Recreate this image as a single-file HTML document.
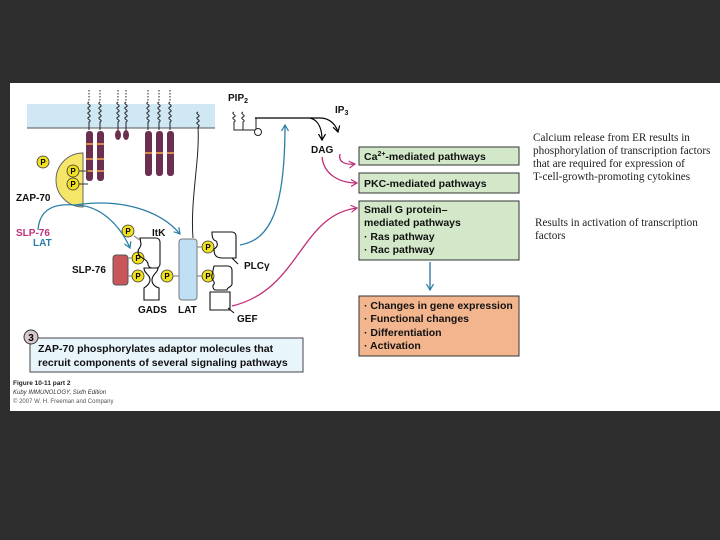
<!DOCTYPE html>
<html><head><meta charset="utf-8"><style>
html,body{margin:0;padding:0;background:#2d2d2d;}
svg{display:block}
</style></head><body>
<svg width="720" height="540" viewBox="0 0 720 540" xmlns="http://www.w3.org/2000/svg" font-family="Liberation Sans, sans-serif">
<defs>
<marker id="ab" markerUnits="userSpaceOnUse" markerWidth="8" markerHeight="8" refX="6" refY="4" orient="auto"><path d="M0,0.5 L6,4 L0,7.5" fill="none" stroke="#2a7fa6" stroke-width="1.2"/></marker>
<marker id="am" markerUnits="userSpaceOnUse" markerWidth="8" markerHeight="8" refX="6" refY="4" orient="auto"><path d="M0,0.5 L6,4 L0,7.5" fill="none" stroke="#c0307a" stroke-width="1.2"/></marker>
<marker id="ak" markerUnits="userSpaceOnUse" markerWidth="8" markerHeight="8" refX="6" refY="4" orient="auto"><path d="M0,0.5 L6,4 L0,7.5" fill="none" stroke="#000" stroke-width="1.2"/></marker>
</defs>
<rect x="0" y="0" width="720" height="540" fill="#2d2d2d"/>
<rect x="10" y="83" width="710" height="328" fill="#fff"/>
<rect x="27" y="104" width="188" height="24" fill="#cfe8f4"/>
<line x1="27" y1="128" x2="215" y2="128" stroke="#555" stroke-width="1"/>
<g stroke="#222" fill="none" stroke-width="1">
<path d="M89,90 v12 M100,90 v12 M118,90 v12 M126,90 v12 M148,90 v12 M159,90 v12 M170,90 v12" stroke-dasharray="1.5,1.5"/>
<g id="coil"><path d="M89,102 c-4,2 4,3 0,5 c-4,2 4,3 0,5 c-4,2 4,3 0,5 c-4,2 4,3 0,5 v8"/></g>
<use href="#coil" x="11"/><use href="#coil" x="29"/><use href="#coil" x="37"/><use href="#coil" x="59"/><use href="#coil" x="70"/><use href="#coil" x="81"/>
<path d="M198,112 c-4,2 4,3 0,5 c-4,2 4,3 0,5 c-4,2 4,3 0,5"/>
<path d="M198,127 C200,160 190,200 193,238"/>
<path d="M234,112 c-4,2 4,3 0,5 c-4,2 4,3 0,5 v8 h22 M243,112 c-4,2 4,3 0,5 c-4,2 4,3 0,5 v8"/>
<line x1="256" y1="118" x2="256" y2="130"/>
</g>
<circle cx="258" cy="132" r="3.5" fill="#fff" stroke="#222"/>
<path d="M255,118 H320 C330,118 336,125 338,132" fill="none" stroke="#000" stroke-width="1.2" marker-end="url(#ak)"/>
<path d="M310,118 C318,120 322,128 322,140" fill="none" stroke="#000" stroke-width="1.2" marker-end="url(#ak)"/>
<g fill="#6b3050">
<rect x="86" y="131" width="7" height="50" rx="3"/><rect x="97" y="131" width="7" height="50" rx="3"/>
<ellipse cx="118" cy="135" rx="3" ry="5"/><ellipse cx="126" cy="135" rx="3" ry="5"/>
<rect x="145" y="131" width="7" height="45" rx="3"/><rect x="156" y="131" width="7" height="45" rx="3"/><rect x="167" y="131" width="7" height="45" rx="3"/>
</g>
<g fill="#d98a4a">
<rect x="86" y="143" width="7" height="2"/><rect x="86" y="158" width="7" height="2"/><rect x="86" y="170" width="7" height="2"/>
<rect x="97" y="143" width="7" height="2"/><rect x="97" y="158" width="7" height="2"/><rect x="97" y="170" width="7" height="2"/>
<rect x="145" y="152" width="7" height="2"/><rect x="156" y="152" width="7" height="2"/><rect x="167" y="152" width="7" height="2"/>
</g>
<path d="M83,153 A27,27 0 0 0 83,207 Z" fill="#f5e66a" stroke="#666"/>
<line x1="78" y1="171" x2="88" y2="171" stroke="#333"/><line x1="78" y1="184" x2="88" y2="184" stroke="#333"/>
<g font-size="8" font-weight="bold" text-anchor="middle">
<g fill="#f0e020" stroke="#333" stroke-width="0.8">
<circle cx="43" cy="162" r="6"/><circle cx="73" cy="171" r="6"/><circle cx="73" cy="184" r="6"/>
<circle cx="128" cy="231" r="6"/><circle cx="138" cy="258" r="6"/><circle cx="138" cy="276" r="6"/>
<circle cx="167" cy="276" r="6"/><circle cx="208" cy="247" r="6"/><circle cx="208" cy="276" r="6"/>
</g>
<text x="43" y="165">P</text><text x="73" y="174">P</text><text x="73" y="187">P</text>
<text x="128" y="234">P</text><text x="138" y="261">P</text><text x="138" y="279">P</text>
<text x="167" y="279">P</text><text x="208" y="250">P</text><text x="208" y="279">P</text>
</g>
<rect x="179" y="239" width="18" height="61" rx="3" fill="#bfe0f4" stroke="#777"/>
<rect x="113" y="255" width="15" height="30" rx="3" fill="#c8555a" stroke="#555"/>
<g stroke="#888" stroke-width="1.2">
<line x1="128" y1="258" x2="132" y2="258"/><line x1="128" y1="276" x2="132" y2="276"/>
<line x1="173" y1="276" x2="179" y2="276"/><line x1="197" y1="247" x2="202" y2="247"/><line x1="197" y1="276" x2="202" y2="276"/>
<line x1="134" y1="236" x2="140" y2="240"/>
</g>
<g fill="none" stroke="#111" stroke-width="1.1">
<path d="M140,238 h16 a4,4 0 0 1 4,4 v22 a4,4 0 0 1 -4,4 h-4 a4,4 0 0 1 -4,-4 c0,-5 -10,-6 -10,-12 c0,-4 3,-4 3,-8 z"/>
<path d="M146,268 h12 c0,5 -6,6 -6,12 c0,5 4,7 7,8 v12 h-15 v-12 c3,-2 6,-5 6,-8 c0,-6 -6,-6 -6,-12z"/>
<path d="M212,232 h20 a4,4 0 0 1 4,4 v22 h-14 c-8,0 -8,-6 -8,-9 c4,-2 4,-6 2,-8 c-4,-1 -4,-6 -4,-9z"/>
<path d="M214,266 h14 a4,4 0 0 1 4,4 v14 c0,3 -5,3 -5,6 h-11 c-3,0 -4,-4 -2,-6 c2,-2 -4,-5 -2,-9z"/>
<path d="M210,292 h20 v18 h-20 z"/>
<path d="M232,258 l6,6 M228,308 l6,5"/>
</g>
<g fill="none" stroke-width="1.3">
<path d="M38,230 C40,200 70,205 75,205 C100,205 120,225 130,248" stroke="#2a7fa6" marker-end="url(#ab)"/>
<path d="M75,205 C120,198 160,210 180,234" stroke="#2a7fa6" marker-end="url(#ab)"/>
<path d="M240,245 C270,240 285,210 285,125" stroke="#2a7fa6" marker-end="url(#ab)"/>
<path d="M232,306 C300,290 300,215 357,208" stroke="#c0307a" marker-end="url(#am)"/>
<path d="M322,157 C324,175 340,183 357,183" stroke="#c0307a" marker-end="url(#am)"/>
<path d="M340,154 C338,162 345,165 355,164" stroke="#c0307a" marker-end="url(#am)"/>
<path d="M430,262 V290" stroke="#2a6fa0" marker-end="url(#ab)"/>
</g>
<g font-weight="bold" font-size="10" fill="#111">
<text x="16" y="201">ZAP-70</text>
<text x="16" y="236" fill="#c0307a">SLP-76</text>
<text x="33" y="246" fill="#2a7fa6">LAT</text>
<text x="72" y="273">SLP-76</text>
<text x="152" y="236">ItK</text>
<text x="138" y="313">GADS</text><text x="178" y="313">LAT</text>
<text x="244" y="269">PLCγ</text><text x="237" y="322">GEF</text>
<text x="228" y="101">PIP<tspan font-size="7" dy="2">2</tspan></text>
<text x="335" y="113">IP<tspan font-size="7" dy="2">3</tspan></text>
<text x="311" y="153">DAG</text>
</g>
<g stroke="#333" stroke-width="1">
<rect x="359" y="147" width="160" height="18" fill="#d2e8c8"/>
<rect x="359" y="173" width="160" height="20" fill="#d2e8c8"/>
<rect x="359" y="201" width="160" height="59" fill="#d2e8c8"/>
<rect x="359" y="296" width="160" height="60" fill="#f2b58d"/>
</g>
<g font-weight="bold" font-size="10.5" fill="#111">
<text x="364" y="160">Ca<tspan font-size="7" dy="-4">2+</tspan><tspan dy="4">-mediated pathways</tspan></text>
<text x="364" y="187">PKC-mediated pathways</text>
<text x="364" y="213">Small G protein–</text>
<text x="364" y="226">mediated pathways</text>
<text x="364" y="240">· Ras pathway</text>
<text x="364" y="253">· Rac pathway</text>
<text x="364" y="309">· Changes in gene expression</text>
<text x="364" y="322">· Functional changes</text>
<text x="364" y="336">· Differentiation</text>
<text x="364" y="349">· Activation</text>
</g>
<g font-family="Liberation Serif, serif" font-size="11.2" fill="#222">
<text x="533" y="141">Calcium release from ER results in</text>
<text x="533" y="154">phosphorylation of transcription factors</text>
<text x="533" y="167">that are required for expression of</text>
<text x="533" y="180">T-cell-growth-promoting cytokines</text>
<text x="535" y="226">Results in activation of transcription</text>
<text x="535" y="239">factors</text>
</g>
<rect x="30" y="338" width="273" height="34" fill="#e8f5fb" stroke="#444"/>
<circle cx="31" cy="337" r="7" fill="#d7c7cf" stroke="#333"/>
<text x="31" y="341" font-size="10" font-weight="bold" text-anchor="middle">3</text>
<g font-weight="bold" font-size="10.5" fill="#111">
<text x="38" y="352">ZAP-70 phosphorylates adaptor molecules that</text>
<text x="38" y="366">recruit components of several signaling pathways</text>
</g>
<text x="13" y="385" font-size="6.5" font-weight="bold" fill="#222">Figure 10-11 part 2</text>
<text x="13" y="394" font-size="6" font-style="italic" fill="#333">Kuby IMMUNOLOGY, Sixth Edition</text>
<text x="13" y="403" font-size="6" fill="#555">© 2007 W. H. Freeman and Company</text>
</svg>
</body></html>
